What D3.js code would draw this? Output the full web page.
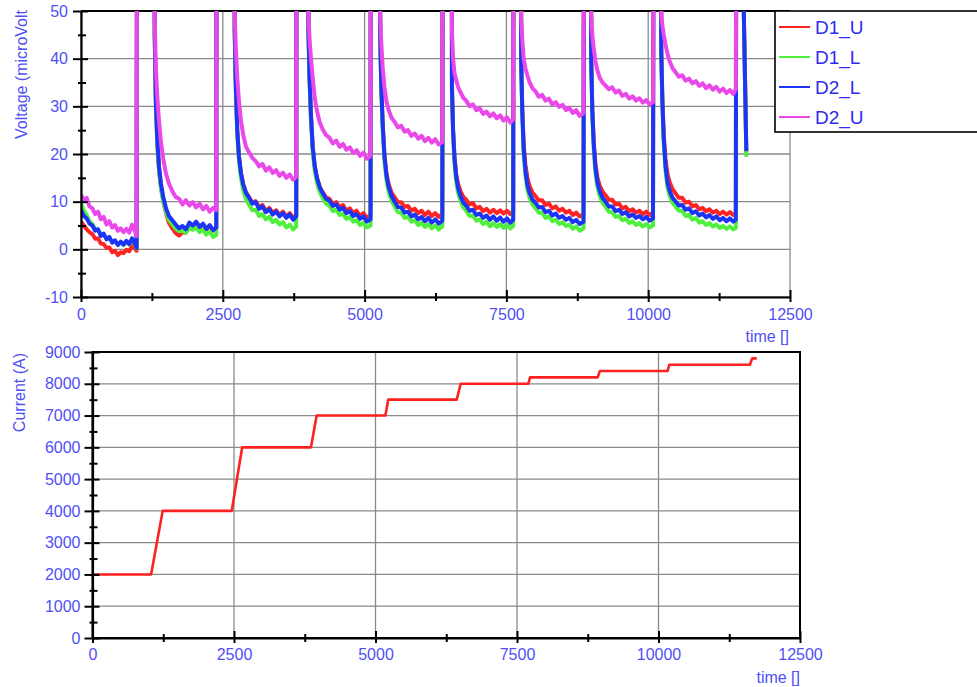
<!DOCTYPE html>
<html><head><meta charset="utf-8">
<script src="https://cdn.jsdelivr.net/npm/d3@7"></script>
<style>
html,body{margin:0;padding:0;background:#fff;}
svg{display:block;font-family:"Liberation Sans",Arial,sans-serif;}
</style></head>
<body>
<svg id="c" width="977" height="687"></svg>
<script>
// ---------- DATA ----------
const seriesNames = ["D1_U", "D1_L", "D2_L", "D2_U"];
const timeTicks = [0, 2500, 5000, 7500, 10000, 12500];
const timeMinor = [1250, 3750, 6250, 8750, 11250];
const voltTicks = [-10, 0, 10, 20, 30, 40, 50];
const voltMinor = [-5, 5, 15, 25, 35, 45];
const currTicks = [0, 1000, 2000, 3000, 4000, 5000, 6000, 7000, 8000, 9000];
const currMinor = [500, 1500, 2500, 3500, 4500, 5500, 6500, 7500, 8500];

// shared time base of the voltage traces (values of 100 = off scale, above 50)
const time = [
  0,50,100,150,200,250,300,350,400,450,500,550,600,650,700,750,800,850,900,950,980,
  990,1290,
  1300,1320,1345,1375,1410,1450,1500,1550,1610,1670,1730,1790,1850,1910,1970,2030,2090,2150,2210,2270,2330,2385,
  2390,2700,
  2710,2730,2755,2785,2820,2860,2910,2960,3020,3080,3140,3200,3260,3320,3380,3440,3500,3560,3620,3680,3740,3795,
  3800,4005,
  4010,4030,4055,4085,4120,4160,4210,4260,4320,4380,4440,4500,4560,4620,4680,4740,4800,4860,4920,4980,5040,5105,
  5110,5270,
  5275,5295,5320,5350,5385,5425,5475,5525,5585,5645,5705,5765,5825,5885,5945,6005,6065,6125,6185,6245,6305,6370,
  6380,6535,
  6540,6560,6585,6615,6650,6690,6740,6790,6850,6910,6970,7030,7090,7150,7210,7270,7330,7390,7450,7510,7570,7620,
  7625,7755,
  7760,7780,7805,7835,7870,7910,7960,8010,8070,8130,8190,8250,8310,8370,8430,8490,8550,8610,8670,8730,8790,8860,
  8870,8990,
  8995,9015,9040,9070,9105,9145,9195,9245,9305,9365,9425,9485,9545,9605,9665,9725,9785,9845,9905,9965,10025,10085,
  10095,10225,
  10230,10250,10275,10305,10340,10380,10430,10480,10540,10600,10660,10720,10780,10840,10900,10960,11020,11080,11140,11200,11260,11320,11380,11440,11500,11545,
  11555,11670,11730
];

const d1u = [
  5.8,5.0,4.2,3.6,3.2,2.2,2.3,1.2,1.1,0.3,0.4,-0.6,-0.3,-1.2,-0.6,-0.8,-0.1,-0.4,0.8,0.2,-0.3,
  100,100,
  45,31,22.5,16.8,13.0,10.2,7.6,5.6,4.4,3.4,2.9,3.6,3.5,5.0,4.7,5.5,4.6,5.2,4.2,4.9,3.9,4.5,
  100,100,
  46,34,25,19.5,16,13.6,11.9,11.0,9.8,10.1,8.8,9.3,8.0,8.7,7.6,8.2,7.2,7.9,6.9,7.6,6.6,7.3,
  100,100,
  46,36,28,21.5,17.5,15,13.1,12.0,10.9,10.6,9.5,9.9,8.8,9.3,8.1,8.6,7.6,8.1,7.0,7.6,6.6,7.2,
  100,100,
  45,34,26,19.8,16,13.6,11.9,11.0,9.9,9.9,8.9,9.1,8.1,8.5,7.6,8.1,7.2,7.9,7.0,7.6,6.8,7.4,
  100,100,
  34,25,19.5,15.8,13.6,12.2,11.0,10.4,9.4,9.7,8.6,8.9,8.0,8.5,7.7,8.3,7.6,8.2,7.5,8.1,7.4,7.9,
  100,100,
  40,29.5,22,17.8,15.0,13.2,11.9,11.2,10.3,10.3,9.3,9.6,8.6,9.0,8.1,8.5,7.7,8.1,7.2,7.7,6.9,7.4,
  100,100,
  40,29.5,22.5,18,15,13.4,12.1,11.4,10.4,10.4,9.4,9.6,8.6,8.9,8.0,8.4,7.7,8.1,7.4,7.9,7.2,7.7,
  100,100,
  42,31.5,24,19,15.8,14,12.6,11.8,10.8,10.8,9.8,10.0,9.0,9.3,8.4,8.7,8.0,8.4,7.7,8.1,7.4,7.9,7.3,7.8,7.2,7.6,
  100,60,20.4
];

const d1l = [
  9.6,8.1,7.2,5.9,5.3,4.3,4.0,3.2,3.0,2.3,2.2,1.6,1.7,1.0,1.5,0.9,1.6,1.0,2.0,1.0,0.2,
  100,100,
  44,30,22,16.5,12.8,10.0,7.8,6.2,5.2,4.3,3.8,3.9,3.5,4.5,4.1,4.6,3.6,4.2,3.1,3.7,2.6,3.0,
  100,100,
  45,33,24,18.5,15,12.4,10.5,9.4,8.2,8.3,7.0,7.4,6.3,6.8,5.7,6.2,5.2,5.7,4.6,5.2,4.2,4.8,
  100,100,
  45,35,27,20.5,16.5,14,12,10.8,9.6,9.1,8.0,8.3,7.2,7.5,6.4,6.8,5.8,6.1,5.1,5.6,4.6,5.0,
  100,100,
  44,33,25,18.5,14.5,12,10.2,9.1,7.8,7.7,6.6,6.8,5.8,6.1,5.1,5.6,4.7,5.3,4.4,5.0,4.2,4.8,
  100,100,
  33,24,18,14.2,11.8,10.2,8.8,8.1,7.0,7.1,6.0,6.3,5.3,5.8,4.8,5.5,4.7,5.3,4.5,5.2,4.4,4.9,
  100,100,
  39,28,20,15.5,12.5,10.8,9.4,8.7,7.7,7.7,6.6,6.9,5.9,6.2,5.3,5.7,4.9,5.2,4.3,4.8,3.9,4.4,
  100,100,
  39,28,21,16,13,11.2,9.8,9.0,7.9,7.8,6.8,7.0,6.1,6.4,5.5,5.9,5.1,5.5,4.8,5.3,4.6,5.0,
  100,100,
  41,30,22,16.5,13,11.2,9.8,9.0,8.1,8.1,7.0,7.2,6.2,6.6,5.6,5.9,5.1,5.5,4.8,5.2,4.5,4.9,4.3,4.8,4.2,4.5,
  100,60,19.4
];

const d2l = [
  8.2,7.0,6.5,5.4,5.0,3.9,4.2,2.8,3.3,2.1,2.6,1.4,1.9,0.9,1.6,1.0,1.8,1.1,2.3,1.2,0.3,
  100,100,
  45,31,23,17.5,13.8,11.0,8.6,7.0,6.1,5.2,4.4,4.9,4.2,5.6,5.0,5.8,4.7,5.4,4.3,5.1,4.0,4.6,
  100,100,
  46,34,25,19.5,16,13.6,11.8,10.9,9.6,9.9,8.5,9.0,7.8,8.4,7.3,7.9,6.9,7.6,6.6,7.3,6.2,6.9,
  100,100,
  46,36,28,21.5,17.5,15,13,11.8,10.6,10.2,9.1,9.4,8.3,8.7,7.6,8.0,7.0,7.4,6.4,6.9,5.8,6.3,
  100,100,
  45,34,26,19.5,15.5,13,11.2,10.1,8.9,8.8,7.7,7.9,6.9,7.3,6.3,6.8,5.9,6.6,5.6,6.3,5.4,6.0,
  100,100,
  34,25,19,15.2,12.8,11.2,9.8,9.2,8.1,8.3,7.2,7.5,6.6,7.1,6.2,6.9,6.0,6.7,5.8,6.5,5.6,6.2,
  100,100,
  40,29,21,16.5,13.5,11.8,10.4,9.8,8.8,8.9,7.8,8.1,7.1,7.5,6.6,7.0,6.2,6.6,5.7,6.2,5.3,5.8,
  100,100,
  40,29,22,17,14,12.2,10.8,10.0,9.0,9.0,8.0,8.3,7.4,7.8,6.9,7.3,6.6,7.0,6.3,6.8,6.0,6.5,
  100,100,
  42,31,23,17.5,14,12.2,10.8,10.1,9.2,9.3,8.3,8.6,7.6,8.0,7.1,7.5,6.7,7.2,6.4,6.9,6.1,6.6,5.9,6.5,5.8,6.2,
  100,60,20.6
];

const d2u = [
  11.5,10.2,10.8,9.0,8.6,7.4,7.9,6.3,6.8,5.2,5.9,4.6,5.1,3.9,4.4,3.6,4.3,3.5,5.2,3.8,2.8,
  100,100,
  48,38,32,27,22.5,19,15.8,13.8,12.2,11.0,10.6,9.4,10.3,9.2,9.9,8.8,9.6,8.4,9.1,7.9,8.7,8.2,
  100,100,
  49,42,36,31,27,24,21.5,20.4,19.2,18.5,17.4,17.9,16.5,17.2,16.0,16.6,15.4,16.1,15.0,15.7,14.6,15.2,
  100,100,
  49,44,40,36,32,29,26.6,25.2,24.0,23.4,22.2,22.8,21.5,22.1,20.9,21.4,20.2,20.8,19.6,20.3,19.0,19.6,
  100,100,
  49,43,38,34,31,29.2,27.6,26.8,25.6,25.9,24.7,25.0,23.8,24.3,23.2,23.8,22.7,23.4,22.4,23.1,22.0,22.5,
  100,100,
  46,40,37,35.5,34,33,31.8,31.2,30.0,30.4,29.2,29.6,28.4,28.9,27.9,28.5,27.5,28.1,27.0,27.7,26.6,27.2,
  100,100,
  49,44,40,38,36.5,35,33.8,33.2,32.0,32.4,31.2,31.6,30.4,30.9,29.9,30.3,29.2,29.7,28.6,29.2,28.0,28.6,
  100,100,
  49,45,42,39.5,37.5,36,35,34.4,33.6,34.0,32.9,33.3,32.2,32.6,31.6,32.1,31.2,31.7,30.8,31.3,30.4,30.9,
  100,100,
  49,47,45,43,41,39.4,38.0,37.2,36.2,36.5,35.4,35.8,34.8,35.3,34.3,34.8,33.8,34.4,33.5,34.1,33.1,33.7,32.8,33.4,32.6,33.6,
  100,100,100
];

// current steps
const currTime = [0,1035,1240,2460,2645,3860,3960,5175,5225,6435,6505,7700,7730,8925,8965,10160,10190,11615,11655,11735];
const currVal  = [2000,2000,4000,4000,6000,6000,7000,7000,7500,7500,8000,8000,8200,8200,8400,8400,8600,8600,8800,8800];

// ---------- DRAW ----------
const colors = {D1_U:"#ff2424", D1_L:"#4ef03c", D2_L:"#1c34f8", D2_U:"#ea48ea"};
const tickColor = "#4f4ff5";
const gridColor = "#8a8a8a";
const fmt = d => String(d);
const svg = d3.select("#c");

const xTop = d3.scaleLinear().domain([0,12500]).range([81,790]);
const yTop = d3.scaleLinear().domain([-10,50]).range([297,11]);
const xBot = d3.scaleLinear().domain([0,12500]).range([92.5,800]);
const yBot = d3.scaleLinear().domain([0,9000]).range([638,352]);

function grid(g, xs, ys, xT, yT) {
  const [x0,x1] = xs.range(), [y0,y1] = ys.range();
  g.selectAll(".gh").data(yT).join("line").attr("class","gh")
    .attr("x1",x0).attr("x2",x1).attr("y1",d=>ys(d)).attr("y2",d=>ys(d))
    .attr("stroke",gridColor).attr("stroke-width",1.3);
  g.selectAll(".gv").data(xT).join("line").attr("class","gv")
    .attr("x1",d=>xs(d)).attr("x2",d=>xs(d)).attr("y1",y0).attr("y2",y1)
    .attr("stroke",gridColor).attr("stroke-width",1.3);
}

function styleMain(g) {
  g.select(".domain").attr("stroke","#000").attr("stroke-width",2.2);
  g.selectAll(".tick line").attr("stroke","#000").attr("stroke-width",2);
  g.selectAll(".tick text").attr("fill",tickColor).attr("font-size",16)
    .attr("font-family","'Liberation Sans',Arial,sans-serif");
}
function styleExtra(g) {
  g.select(".domain").remove();
  g.selectAll(".tick line").attr("stroke","#000").attr("stroke-width",2);
}

function axes(xs, ys, xT, xM, yT, yM, yPad, xPad) {
  const [x0] = xs.range(), [y0] = ys.range();
  const layer = svg.append("g");
  // extra (inner / minor) ticks first
  layer.append("g").attr("transform",`translate(${x0},0)`)
    .call(d3.axisRight(ys).tickValues(yT).tickSize(7).tickFormat("")).call(styleExtra);
  layer.append("g").attr("transform",`translate(${x0},0)`)
    .call(d3.axisLeft(ys).tickValues(yM).tickSize(3).tickFormat("")).call(styleExtra);
  layer.append("g").attr("transform",`translate(${x0},0)`)
    .call(d3.axisRight(ys).tickValues(yM).tickSize(5).tickFormat("")).call(styleExtra);
  layer.append("g").attr("transform",`translate(0,${y0})`)
    .call(d3.axisTop(xs).tickValues(xT).tickSize(7).tickFormat("")).call(styleExtra);
  layer.append("g").attr("transform",`translate(0,${y0})`)
    .call(d3.axisTop(xs).tickValues(xM).tickSize(4).tickFormat("")).call(styleExtra);
  layer.append("g").attr("transform",`translate(0,${y0})`)
    .call(d3.axisBottom(xs).tickValues(xM).tickSize(4).tickFormat("")).call(styleExtra);
  // main axes with labels
  layer.append("g").attr("transform",`translate(${x0},0)`)
    .call(d3.axisLeft(ys).tickValues(yT).tickSize(8).tickSizeOuter(0).tickPadding(yPad).tickFormat(fmt))
    .call(styleMain);
  layer.append("g").attr("transform",`translate(0,${y0})`)
    .call(d3.axisBottom(xs).tickValues(xT).tickSize(5).tickSizeOuter(0).tickPadding(xPad).tickFormat(fmt))
    .call(styleMain);
}

// ---- top chart ----
const gTop = svg.append("g");
grid(gTop, xTop, yTop, timeTicks, voltTicks);
svg.append("line").attr("x1",81).attr("x2",790).attr("y1",yTop(50)).attr("y2",yTop(50))
  .attr("stroke","#000").attr("stroke-width",2);

svg.append("clipPath").attr("id","clipTop").append("rect")
  .attr("x",81).attr("y",11).attr("width",709).attr("height",286);
const line = d3.line().defined(d=>d[1]!=null && !isNaN(d[1]))
  .x(d=>xTop(d[0])).y(d=>yTop(d[1]));
const seriesData = {D1_U:d1u, D1_L:d1l, D2_L:d2l, D2_U:d2u};
const gl = svg.append("g").attr("clip-path","url(#clipTop)");
["D1_U","D1_L","D2_L","D2_U"].forEach(name=>{
  const vals = seriesData[name];
  const pts = time.map((t,i)=>[t, vals[i]]);
  gl.append("path").datum(pts).attr("d",line).attr("fill","none")
    .attr("stroke",colors[name]).attr("stroke-width",4)
    .attr("stroke-linejoin","round");
});
axes(xTop, yTop, timeTicks, timeMinor, voltTicks, voltMinor, 5, 7);

svg.append("text").attr("transform","translate(27,10) rotate(-90)")
  .attr("text-anchor","end").attr("fill",tickColor).attr("font-size",16)
  .text("Voltage (microVolt");
svg.append("text").attr("x",789).attr("y",342).attr("text-anchor","end")
  .attr("fill",tickColor).attr("font-size",16).text("time []");

// legend
const lg = svg.append("g");
lg.append("rect").attr("x",775).attr("y",11).attr("width",220).attr("height",121)
  .attr("fill","#fff").attr("stroke","#000").attr("stroke-width",1.6);
const ly = d3.scalePoint().domain(seriesNames).range([27,117]);
seriesNames.forEach(n=>{
  lg.append("line").attr("x1",779).attr("x2",810).attr("y1",ly(n)).attr("y2",ly(n))
    .attr("stroke",colors[n]).attr("stroke-width",2);
  lg.append("text").attr("x",815).attr("y",ly(n)).attr("dy","0.36em")
    .attr("fill","#2c2cf0").attr("font-size",19).text(n);
});

// ---- bottom chart ----
const gBot = svg.append("g");
grid(gBot, xBot, yBot, timeTicks, currTicks);
svg.append("rect").attr("x",92.5).attr("y",352).attr("width",707.5).attr("height",286)
  .attr("fill","none").attr("stroke","#000").attr("stroke-width",2);
const cline = d3.line().x((d,i)=>xBot(currTime[i])).y(d=>yBot(d));
svg.append("path").datum(currVal).attr("d",cline).attr("fill","none")
  .attr("stroke","#ff2020").attr("stroke-width",2.6).attr("stroke-linejoin","round");
axes(xBot, yBot, timeTicks, timeMinor, currTicks, currMinor, 4, 6);

svg.append("text").attr("transform","translate(25,353) rotate(-90)")
  .attr("text-anchor","end").attr("fill",tickColor).attr("font-size",16)
  .text("Current (A)");
svg.append("text").attr("x",800).attr("y",683).attr("text-anchor","end")
  .attr("fill",tickColor).attr("font-size",16).text("time []");
</script>
</body></html>
